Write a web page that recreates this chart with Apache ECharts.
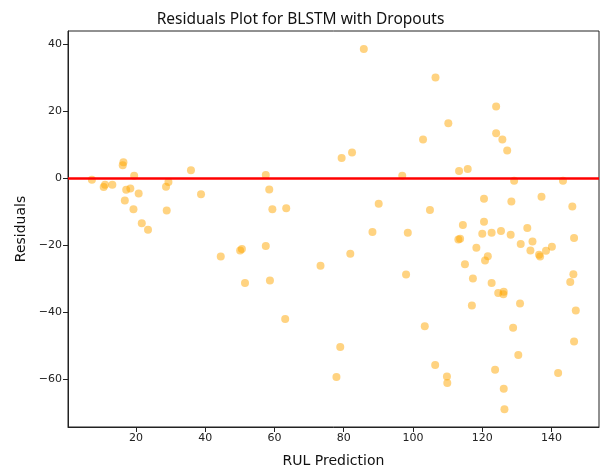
<!DOCTYPE html>
<html>
<head>
<meta charset="utf-8">
<title>Residuals Plot for BLSTM with Dropouts</title>
<script src="https://cdn.jsdelivr.net/npm/echarts@6/dist/echarts.min.js"></script>
<style>
  html, body { margin: 0; padding: 0; background: #fff; }
  #chart { width: 601px; height: 469px; }
</style>
</head>
<body>
<div id="chart"></div>
<script>
// Predicted remaining useful life (x) and residual (y) per test engine
const rulPrediction = [
  7.3, 16.4, 16.2, 10.7, 11.1, 13.2, 19.5, 17.2, 18.4, 20.8,
  16.8, 19.3, 21.7, 23.5, 28.7, 29.4, 28.9, 35.9, 38.8, 57.5,
  58.5, 59.4, 63.4, 44.5, 50.1, 50.6, 57.5, 51.5, 58.7, 73.3,
  81.9, 79.4, 82.4, 90.1, 88.3, 96.9, 98.5, 98.0, 104.9, 63.1,
  79.0, 77.9, 85.8, 106.5, 124.0, 110.2, 102.9, 124.0, 125.8, 127.2,
  113.3, 115.8, 129.2, 143.3, 120.5, 128.4, 137.1, 146.0, 114.4, 120.5,
  133.0, 113.1, 113.6, 120.0, 122.7, 125.4, 128.2, 146.5, 118.3, 131.1,
  134.5, 133.9, 136.4, 136.7, 138.4, 140.1, 121.6, 120.8, 115.0, 117.3,
  122.7, 124.6, 126.2, 126.1, 117.0, 130.9, 146.3, 145.4, 147.0, 128.9,
  146.5, 130.4, 106.4, 109.8, 109.9, 123.7, 126.2, 126.4, 141.9, 103.4
];
const residuals = [
  -0.5, 4.7, 3.8, -2.7, -2.0, -2.0, 0.7, -3.5, -3.1, -4.6,
  -6.7, -9.3, -13.5, -15.4, -2.6, -1.2, -9.7, 2.3, -4.8, 0.9,
  -3.4, -9.3, -9.0, -23.4, -21.6, -21.2, -20.3, -31.3, -30.6, -26.2,
  -22.6, 6.0, 7.6, -7.7, -16.1, 0.7, -16.3, -28.8, -9.5, -42.1,
  -50.4, -59.4, 38.5, 30.0, 21.4, 16.4, 11.5, 13.4, 11.5, 8.2,
  2.1, 2.7, -0.8, -0.8, -6.2, -7.0, -5.6, -8.5, -14.0, -13.0,
  -14.9, -18.3, -18.1, -16.6, -16.3, -15.8, -16.9, -17.9, -20.8, -19.7,
  -18.9, -21.6, -22.9, -23.4, -21.7, -20.5, -23.3, -24.6, -25.7, -30.0,
  -31.3, -34.3, -33.9, -34.7, -38.0, -37.4, -28.7, -31.0, -39.5, -44.7,
  -48.8, -52.8, -55.8, -59.2, -61.2, -57.2, -62.9, -69.0, -58.2, -44.2
];
const xTickValues = [20, 40, 60, 80, 100, 120, 140];
const yTickValues = [-60, -40, -20, 0, 20, 40];

const points = rulPrediction.map((x, i) => [x, residuals[i]]);

const FONT = 'DejaVu Sans';
// typographic minus for negative tick labels
const fmtTick = v => String(v).replace('-', '\u2212');

const chart = echarts.init(document.getElementById('chart'), null, { renderer: 'canvas' });

const axisCommon = {
  type: 'value',
  splitLine: { show: false },
  axisLine: { show: true, onZero: false, lineStyle: { color: '#222', width: 1 } },
  axisTick: { show: true, inside: false, length: 5, lineStyle: { color: '#222', width: 1 } },
  axisLabel: { color: '#222', fontFamily: FONT, fontSize: 11, margin: 6, formatter: fmtTick },
  nameTextStyle: { color: '#111', fontFamily: FONT, fontSize: 14 }
};

chart.setOption({
  backgroundColor: '#fff',
  animation: false,
  title: {
    text: 'Residuals Plot for BLSTM with Dropouts',
    left: 'center',
    top: 7,
    textStyle: { color: '#111', fontFamily: 'Noto Sans', fontSize: 15.5, fontWeight: 'normal' }
  },
  grid: {
    left: 68, right: 2, top: 31, bottom: 42,
    containLabel: false,
    outerBoundsMode: 'none',
    show: true, borderColor: '#222', borderWidth: 1, backgroundColor: '#fff'
  },
  xAxis: Object.assign({}, axisCommon, {
    min: 0.4, max: 153.7,
    name: 'RUL Prediction',
    nameLocation: 'middle',
    nameGap: 27,
    axisTick: Object.assign({}, axisCommon.axisTick, { customValues: xTickValues }),
    axisLabel: Object.assign({}, axisCommon.axisLabel, { customValues: xTickValues })
  }),
  yAxis: Object.assign({}, axisCommon, {
    min: -74.3, max: 43.9,
    name: 'Residuals',
    nameLocation: 'middle',
    nameGap: 38,
    axisTick: Object.assign({}, axisCommon.axisTick, { customValues: yTickValues }),
    axisLabel: Object.assign({}, axisCommon.axisLabel, { customValues: yTickValues })
  }),
  series: [{
    type: 'scatter',
    data: points,
    symbol: 'circle',
    symbolSize: 8,
    itemStyle: { color: 'rgba(255,165,0,0.62)' },
    silent: true,
    markLine: {
      silent: true,
      symbol: ['none', 'none'],
      label: { show: false },
      lineStyle: { color: '#ff0000', width: 2.5, type: 'solid' },
      data: [{ yAxis: 0 }]
    }
  }]
});
</script>
</body>
</html>
